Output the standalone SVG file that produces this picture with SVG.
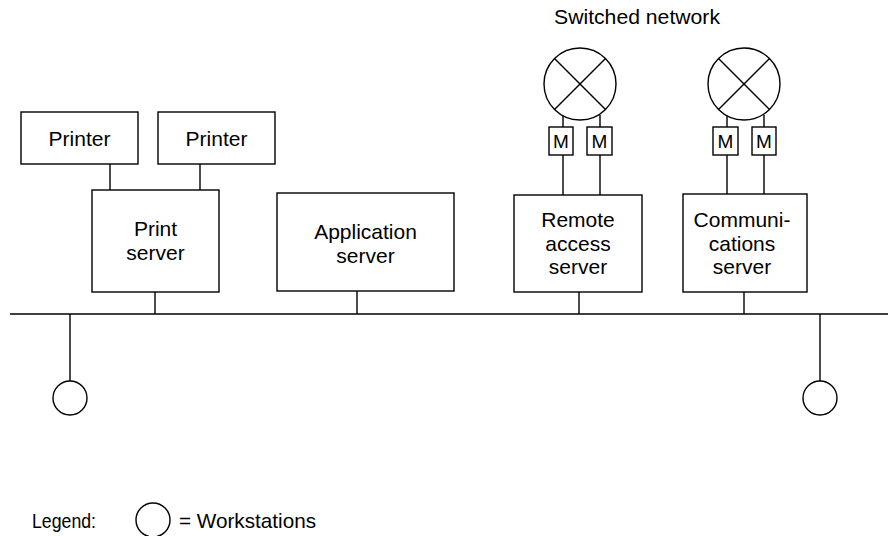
<svg xmlns="http://www.w3.org/2000/svg" width="888" height="536" viewBox="0 0 888 536">
<style>
.b{fill:#fff;stroke:#000;stroke-width:1.4}
.l{stroke:#000;stroke-width:1.4;fill:none}
.t{font-family:"Liberation Sans",Arial,sans-serif;font-size:21px;fill:#000;text-anchor:middle}
.m{font-family:"Liberation Sans",Arial,sans-serif;font-size:19px;fill:#000;text-anchor:middle}
.s{font-family:"Liberation Sans",Arial,sans-serif;font-size:21px;fill:#000}
</style>
<rect width="888" height="536" fill="#fff"/>
<g id="connectors">
<line class="l" x1="10" y1="314" x2="888" y2="314"/>
<line class="l" x1="110" y1="164" x2="110" y2="190"/>
<line class="l" x1="200" y1="164" x2="200" y2="190"/>
<line class="l" x1="155" y1="292" x2="155" y2="314"/>
<line class="l" x1="357" y1="291" x2="357" y2="314"/>
<line class="l" x1="579" y1="292" x2="579" y2="314"/>
<line class="l" x1="744" y1="292" x2="744" y2="314"/>
<line class="l" x1="70" y1="314" x2="70" y2="381"/>
<line class="l" x1="820" y1="314" x2="820" y2="381"/>
<line class="l" x1="563" y1="115" x2="563" y2="127"/>
<line class="l" x1="600" y1="115" x2="600" y2="127"/>
<line class="l" x1="563" y1="155" x2="563" y2="195"/>
<line class="l" x1="600" y1="155" x2="600" y2="195"/>
<line class="l" x1="727" y1="115" x2="727" y2="127"/>
<line class="l" x1="764" y1="115" x2="764" y2="127"/>
<line class="l" x1="727" y1="155" x2="727" y2="194"/>
<line class="l" x1="764" y1="155" x2="764" y2="194"/>
</g>
<g id="printer1"><rect class="b" x="21" y="112" width="117" height="52"/><text class="t" x="79.5" y="146">Printer</text></g>
<g id="printer2"><rect class="b" x="158" y="112" width="117" height="52"/><text class="t" x="216.5" y="146">Printer</text></g>
<g id="print-server"><rect class="b" x="92" y="190" width="127" height="102"/><text class="t" x="155.5" y="236">Print</text><text class="t" x="155.5" y="260">server</text></g>
<g id="application-server"><rect class="b" x="277" y="193" width="177" height="98"/><text class="t" x="365.5" y="239">Application</text><text class="t" x="365.5" y="263">server</text></g>
<g id="remote-access-server"><rect class="b" x="514" y="195" width="128" height="97"/><text class="t" x="578" y="227">Remote</text><text class="t" x="578" y="251">access</text><text class="t" x="578" y="274">server</text></g>
<g id="communications-server"><rect class="b" x="683" y="194" width="124" height="98"/><text class="t" x="742" y="227">Communi-</text><text class="t" x="742" y="251">cations</text><text class="t" x="742" y="274">server</text></g>
<g id="switch1"><circle class="b" cx="580" cy="84" r="36"/><line class="l" x1="554.5" y1="58.5" x2="605.5" y2="109.5"/><line class="l" x1="605.5" y1="58.5" x2="554.5" y2="109.5"/></g>
<g id="switch2"><circle class="b" cx="744" cy="84" r="36"/><line class="l" x1="718.5" y1="58.5" x2="769.5" y2="109.5"/><line class="l" x1="769.5" y1="58.5" x2="718.5" y2="109.5"/></g>
<g id="modem1"><rect class="b" x="549" y="127" width="24" height="28"/><text class="m" x="561" y="148">M</text></g>
<g id="modem2"><rect class="b" x="587" y="127" width="25" height="28"/><text class="m" x="599.5" y="148">M</text></g>
<g id="modem3"><rect class="b" x="713" y="127" width="25" height="28"/><text class="m" x="725.5" y="148">M</text></g>
<g id="modem4"><rect class="b" x="752" y="127" width="24" height="28"/><text class="m" x="764" y="148">M</text></g>
<g id="workstation1"><circle class="b" cx="70" cy="398" r="17"/></g>
<g id="workstation2"><circle class="b" cx="820" cy="398" r="17"/></g>
<text class="s" x="554" y="24" textLength="166" lengthAdjust="spacingAndGlyphs">Switched network</text>
<g id="legend">
<text class="s" x="32" y="528" textLength="64" lengthAdjust="spacingAndGlyphs">Legend:</text>
<ellipse class="b" cx="153" cy="520" rx="17" ry="17"/>
<text class="s" x="179" y="528" textLength="137" lengthAdjust="spacingAndGlyphs">= Workstations</text>
</g>
</svg>
